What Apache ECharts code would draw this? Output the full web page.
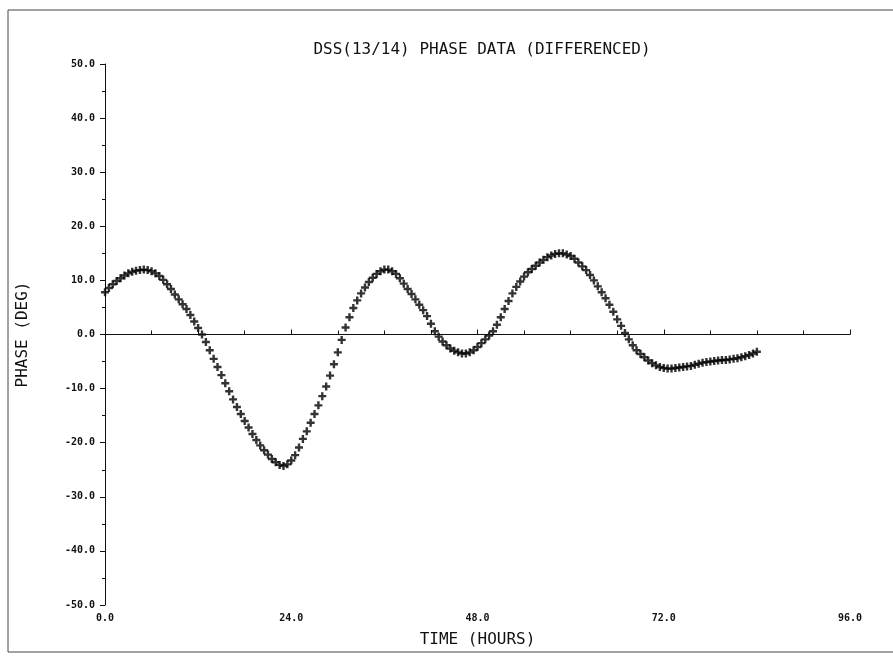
<!DOCTYPE html>
<html>
<head>
<meta charset="utf-8">
<script src="https://cdn.jsdelivr.net/npm/echarts@6/dist/echarts.min.js"></script>
<style>
html,body{margin:0;padding:0;background:#fff;}
#chart{width:893px;height:660px;}
</style>
</head>
<body>
<div id="chart"></div>
<script>
const titleText = 'DSS(13/14) PHASE DATA (DIFFERENCED)';
const xName = 'TIME (HOURS)';
const yName = 'PHASE (DEG)';

// time in hours (sampled every half hour)
const hours = [
 0.0,0.5,1.0,1.5,2.0,2.5,3.0,3.5,4.0,4.5,5.0,5.5,6.0,6.5,7.0,7.5,8.0,8.5,9.0,9.5,
 10.0,10.5,11.0,11.5,12.0,12.5,13.0,13.5,14.0,14.5,15.0,15.5,16.0,16.5,17.0,17.5,18.0,18.5,19.0,19.5,
 20.0,20.5,21.0,21.5,22.0,22.5,23.0,23.5,24.0,24.5,25.0,25.5,26.0,26.5,27.0,27.5,28.0,28.5,29.0,29.5,
 30.0,30.5,31.0,31.5,32.0,32.5,33.0,33.5,34.0,34.5,35.0,35.5,36.0,36.5,37.0,37.5,38.0,38.5,39.0,39.5,
 40.0,40.5,41.0,41.5,42.0,42.5,43.0,43.5,44.0,44.5,45.0,45.5,46.0,46.5,47.0,47.5,48.0,48.5,49.0,49.5,
 50.0,50.5,51.0,51.5,52.0,52.5,53.0,53.5,54.0,54.5,55.0,55.5,56.0,56.5,57.0,57.5,58.0,58.5,59.0,59.5,
 60.0,60.5,61.0,61.5,62.0,62.5,63.0,63.5,64.0,64.5,65.0,65.5,66.0,66.5,67.0,67.5,68.0,68.5,69.0,69.5,
 70.0,70.5,71.0,71.5,72.0,72.5,73.0,73.5,74.0,74.5,75.0,75.5,76.0,76.5,77.0,77.5,78.0,78.5,79.0,79.5,
 80.0,80.5,81.0,81.5,82.0,82.5,83.0,83.5,84.0
];

// phase in degrees
const phase = [
 7.8,8.6,9.3,9.9,10.4,10.9,11.3,11.6,11.8,11.9,12.0,11.9,11.7,11.3,10.8,10.1,9.3,8.4,7.4,6.5,
 5.6,4.7,3.6,2.4,1.2,0.0,-1.4,-2.9,-4.5,-6.0,-7.5,-9.0,-10.5,-12.0,-13.4,-14.7,-16.0,-17.2,-18.4,-19.5,
 -20.5,-21.4,-22.2,-23.0,-23.6,-24.1,-24.3,-24.0,-23.3,-22.3,-20.9,-19.3,-17.9,-16.3,-14.7,-13.1,-11.4,-9.6,-7.6,-5.5,
 -3.3,-1.0,1.3,3.2,4.9,6.3,7.6,8.7,9.7,10.5,11.2,11.7,12.0,12.0,11.7,11.2,10.4,9.4,8.4,7.5,
 6.5,5.5,4.5,3.4,2.0,0.6,-0.4,-1.3,-2.0,-2.6,-3.0,-3.3,-3.5,-3.5,-3.3,-2.9,-2.3,-1.6,-0.9,-0.2,
 0.6,1.8,3.2,4.7,6.2,7.6,8.8,9.8,10.7,11.5,12.1,12.7,13.3,13.8,14.3,14.6,14.9,15.0,15.0,14.8,
 14.5,14.0,13.3,12.6,11.9,11.0,10.0,8.9,7.8,6.7,5.5,4.2,2.8,1.6,0.3,-0.9,-2.0,-2.9,-3.6,-4.2,
 -4.8,-5.3,-5.7,-6.0,-6.2,-6.3,-6.3,-6.2,-6.1,-6.0,-5.9,-5.8,-5.6,-5.4,-5.2,-5.1,-5.0,-4.9,-4.8,-4.7,
 -4.7,-4.6,-4.5,-4.4,-4.2,-4.0,-3.8,-3.5,-3.2
];

const xMin = 0, xMax = 96, xStep = 24;
const yMin = -50, yMax = 50, yStep = 10;

const points = hours.map((h, i) => [h, phase[i]]);
const mono = '"DejaVu Sans Mono", "Liberation Mono", monospace';
const ink = '#111';

const chart = echarts.init(document.getElementById('chart'), null, {renderer: 'canvas'});
chart.setOption({
  backgroundColor: '#ffffff',
  animation: false,
  title: {
    text: titleText,
    left: 477,
    top: 37,
    textAlign: 'center',
    textStyle: {fontFamily: mono, fontSize: 16, fontWeight: 'normal', color: ink}
  },
  graphic: [{
    type: 'rect',
    shape: {x: 8, y: 10, width: 895, height: 642},
    style: {fill: 'none', stroke: '#444', lineWidth: 1},
    silent: true
  }],
  grid: {left: 105, right: 43, top: 64, bottom: 55},
  xAxis: {
    type: 'value',
    min: xMin, max: xMax, interval: xStep,
    name: xName,
    nameLocation: 'middle',
    nameGap: 27,
    nameTextStyle: {fontFamily: mono, fontSize: 16, color: ink},
    axisLine: {lineStyle: {color: ink, width: 1}},
    axisTick: {inside: true, length: 5, lineStyle: {color: ink}},
    minorTick: {show: true, splitNumber: 4, length: 4, lineStyle: {color: ink}},
    axisLabel: {fontFamily: mono, fontSize: 10, fontWeight: 'bold', color: ink, margin: 8,
      formatter: v => v.toFixed(1)},
    splitLine: {show: false}
  },
  yAxis: {
    type: 'value',
    min: yMin, max: yMax, interval: yStep,
    name: yName,
    nameLocation: 'middle',
    nameGap: 74,
    nameRotate: 90,
    nameTextStyle: {fontFamily: mono, fontSize: 16, color: ink},
    axisLine: {onZero: false, lineStyle: {color: ink, width: 1}},
    axisTick: {length: 5, lineStyle: {color: ink}},
    minorTick: {show: true, splitNumber: 2, length: 3, lineStyle: {color: ink}},
    axisLabel: {fontFamily: mono, fontSize: 10, fontWeight: 'bold', color: ink, margin: 10,
      formatter: v => v.toFixed(1)},
    splitLine: {show: false}
  },
  series: [{
    type: 'scatter',
    data: points,
    symbol: 'path://M3.5,0H6.5V3.5H10V6.5H6.5V10H3.5V6.5H0V3.5H3.5Z',
    symbolSize: 8,
    itemStyle: {color: '#000'},
    silent: true,
    markLine: {
      silent: true,
      symbol: 'none',
      label: {show: false},
      lineStyle: {color: ink, width: 1, type: 'solid'},
      data: [{yAxis: 0}]
    }
  }]
});
</script>
</body>
</html>
